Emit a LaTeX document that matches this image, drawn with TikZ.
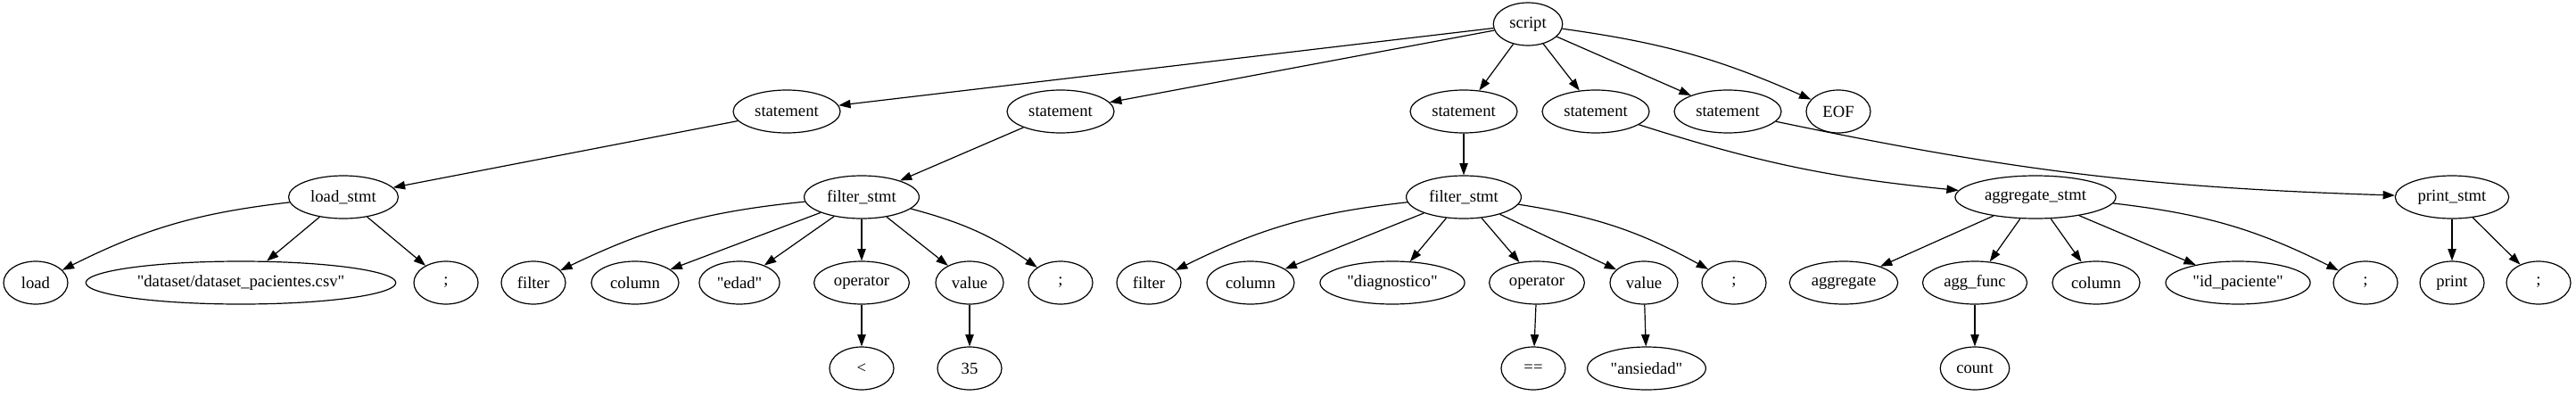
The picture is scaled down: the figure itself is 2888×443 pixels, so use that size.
\documentclass[tikz,border=0pt]{standalone}
\usepackage{fontspec}
\setmainfont{Liberation Serif}
\usepackage{tikz}
\usetikzlibrary{arrows.meta,shapes.geometric}
\newcommand{\qt}[1]{\textquotedbl#1\textquotedbl}
\tikzset{
  tnode/.style = {ellipse, draw=black, line width=0.9pt, minimum width=54pt,
                  minimum height=36pt, inner xsep=5pt, inner ysep=2pt,
                  font=\fontsize{14}{16}\selectfont},
  ar/.style    = {-{Triangle[length=10pt,width=7pt]}, line width=0.9pt},
}

\begin{document}
\begin{tikzpicture}[x=0.75pt, y=-0.75pt]
  \useasboundingbox (0,0) rectangle (2888,443);
  % root and statements
  \node[tnode] (script) at (1713,27) {script};
  \node[tnode] (st1) at (882,125) {statement};
  \node[tnode] (st2) at (1189,125) {statement};
  \node[tnode] (st3) at (1641,125) {statement};
  \node[tnode] (st4) at (1789,125) {statement};
  \node[tnode] (st5) at (1937,125) {statement};
  \node[tnode] (eof) at (2061,125) {EOF};
  % statement kinds
  \node[tnode] (load) at (385,221) {load\_stmt};
  \node[tnode] (filtA) at (966,221) {filter\_stmt};
  \node[tnode] (filtB) at (1641,221) {filter\_stmt};
  \node[tnode] (aggr) at (2282,221) {aggregate\_stmt};
  \node[tnode] (prnt) at (2749,221) {print\_stmt};
  % leaves
  \node[tnode] (ldkw) at (40,317) {load};
  \node[tnode] (ldpath) at (270,317) {\qt{dataset/dataset\_pacientes.csv}};
  \node[tnode] (ldsemi) at (500,317) {;};
  \node[tnode] (fAkw) at (598,317) {filter};
  \node[tnode] (fAcol) at (712,317) {column};
  \node[tnode] (fAname) at (829,317) {\qt{edad}};
  \node[tnode] (fAop) at (966,317) {operator};
  \node[tnode] (fAval) at (1087,317) {value};
  \node[tnode] (fAsemi) at (1189,317) {;};
  \node[tnode] (fBkw) at (1288,317) {filter};
  \node[tnode] (fBcol) at (1402,317) {column};
  \node[tnode] (fBname) at (1561,317) {\qt{diagnostico}};
  \node[tnode] (fBop) at (1723,317) {operator};
  \node[tnode] (fBval) at (1843,317) {value};
  \node[tnode] (fBsemi) at (1944,317) {;};
  \node[tnode] (agkw) at (2067,317) {aggregate};
  \node[tnode] (agfn) at (2214,317) {agg\_func};
  \node[tnode] (agcol) at (2350,317) {column};
  \node[tnode] (agname) at (2509,317) {\qt{id\_paciente}};
  \node[tnode] (agsemi) at (2652,317) {;};
  \node[tnode] (prkw) at (2749,317) {print};
  \node[tnode] (prsemi) at (2846,317) {;};
  % bottom row
  \node[tnode] (fAlt) at (966,413) {<};
  \node[tnode] (fAnum) at (1087,413) {35};
  \node[tnode] (fBeq) at (1719,413) {==};
  \node[tnode] (fBstr) at (1846,413) {\qt{ansiedad}};
  \node[tnode] (count) at (2214,413) {count};

  % edges
  \draw[ar] (script)--(st1); \draw[ar] (script)--(st2); \draw[ar] (script)--(st3);
  \draw[ar] (script)--(st4); \draw[ar] (script)--(st5);
  \draw[ar] (script) to[bend left=8] (eof);
  \draw[ar] (st1)--(load); \draw[ar] (st2)--(filtA); \draw[ar] (st3)--(filtB);
  \draw[ar] (st4) to[bend right=6] (aggr);
  \draw[ar] (st5) to[bend right=5] (prnt);
  \draw[ar] (load) to[bend right=10] (ldkw);
  \draw[ar] (load)--(ldpath); \draw[ar] (load)--(ldsemi);
  \draw[ar] (filtA) to[bend right=10] (fAkw);
  \draw[ar] (filtA)--(fAcol); \draw[ar] (filtA)--(fAname); \draw[ar] (filtA)--(fAop);
  \draw[ar] (filtA)--(fAval);
  \draw[ar] (filtA) to[bend left=10] (fAsemi);
  \draw[ar] (fAop)--(fAlt); \draw[ar] (fAval)--(fAnum);
  \draw[ar] (filtB) to[bend right=10] (fBkw);
  \draw[ar] (filtB)--(fBcol); \draw[ar] (filtB)--(fBname); \draw[ar] (filtB)--(fBop);
  \draw[ar] (filtB)--(fBval);
  \draw[ar] (filtB) to[bend left=10] (fBsemi);
  \draw[ar] (fBop)--(fBeq); \draw[ar] (fBval)--(fBstr);
  \draw[ar] (aggr)--(agkw); \draw[ar] (aggr)--(agfn); \draw[ar] (aggr)--(agcol);
  \draw[ar] (aggr)--(agname);
  \draw[ar] (aggr) to[bend left=10] (agsemi);
  \draw[ar] (agfn)--(count);
  \draw[ar] (prnt)--(prkw); \draw[ar] (prnt)--(prsemi);
\end{tikzpicture}
\end{document}
